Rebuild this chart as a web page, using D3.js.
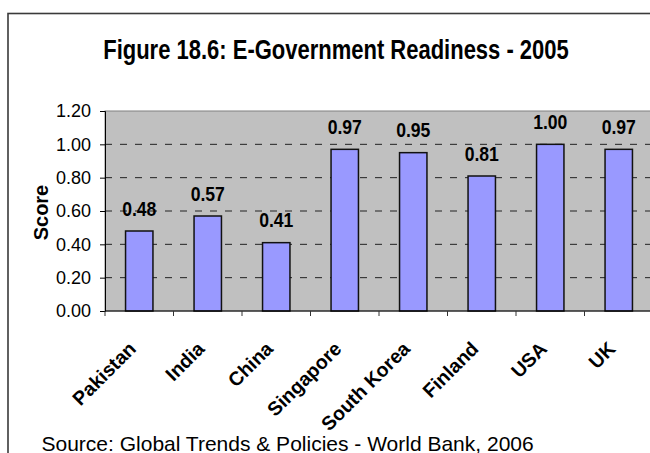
<!DOCTYPE html>
<html>
<head>
<meta charset="utf-8">
<script src="https://cdn.jsdelivr.net/npm/d3@7"></script>
<style>
 body { margin: 0; background: #fff; }
 svg { display: block; }
</style>
</head>
<body>
<script>
// E-Government Readiness 2005 - bar chart

var countries = ["Pakistan", "India", "China", "Singapore", "South Korea", "Finland", "USA", "UK"];
var scores = [0.48, 0.57, 0.41, 0.97, 0.95, 0.81, 1.00, 0.97];
var yTicks = [0, 0.2, 0.4, 0.6, 0.8, 1.0, 1.2];

var width = 650;
var height = 453;
var fontName = "'Liberation Sans', Arial, sans-serif";

var svg = d3.select("body").append("svg")
 .attr("width", width)
 .attr("height", height);

// outer chart frame (runs past the right and bottom edges of the picture)
svg.append("rect")
 .attr("x", 8)
 .attr("y", 13.5)
 .attr("width", 720)
 .attr("height", 520)
 .attr("fill", "#fff")
 .attr("stroke", "#3a3a3a")
 .attr("stroke-width", 1.6);

var x = d3.scaleBand()
 .domain(countries)
 .range([105, 653])
 .paddingInner(0.6)
 .paddingOuter(0.3);

var y = d3.scaleLinear()
 .domain([0, 1.2])
 .range([311, 111]);

var step = x.step();
var left = x.range()[0], right = x.range()[1];

// plot area
svg.append("rect")
 .attr("x", left)
 .attr("y", y(1.2))
 .attr("width", right - left)
 .attr("height", y(0) - y(1.2))
 .attr("fill", "#c0c0c0")
 .attr("stroke", "#808080")
 .attr("stroke-width", 1);

// dashed gridlines
svg.selectAll(".grid")
 .data(yTicks.filter(function(d) { return d > 0 && d < 1.2; }))
 .enter().append("line")
 .attr("x1", left)
 .attr("x2", right)
 .attr("y1", function(d) { return y(d); })
 .attr("y2", function(d) { return y(d); })
 .attr("stroke", "#222")
 .attr("stroke-width", 1)
 .attr("stroke-dasharray", "7,8");

// bars
svg.selectAll(".bar")
 .data(scores)
 .enter().append("rect")
 .attr("x", function(d, i) { return x(countries[i]); })
 .attr("y", function(d) { return y(d); })
 .attr("width", x.bandwidth())
 .attr("height", function(d) { return y(0) - y(d); })
 .attr("fill", "#9999ff")
 .attr("stroke", "#111")
 .attr("stroke-width", 1.5);

// value labels
svg.selectAll(".val")
 .data(scores)
 .enter().append("text")
 .attr("transform", function(d, i) {
   return "translate(" + (x(countries[i]) + x.bandwidth() / 2) + "," + (y(d) - 15.5) + ") scale(0.88,1)";
 })
 .attr("text-anchor", "middle")
 .attr("font-family", fontName)
 .attr("font-weight", "bold")
 .attr("font-size", 20)
 .attr("fill", "#000")
 .text(function(d) { return d.toFixed(2); });

// y axis
var yAxis = d3.axisLeft(y)
 .tickValues(yTicks)
 .tickSize(5)
 .tickPadding(9)
 .tickFormat(d3.format(".2f"));

var gy = svg.append("g")
 .attr("transform", "translate(" + left + ",0)")
 .call(yAxis);
gy.select(".domain").attr("stroke", "#000");
gy.selectAll(".tick line").attr("stroke", "#000");
gy.selectAll(".tick text")
 .attr("font-family", fontName)
 .attr("font-size", 18)
 .attr("fill", "#000");

// x axis line and ticks between categories
svg.append("line")
 .attr("x1", left)
 .attr("x2", right)
 .attr("y1", y(0))
 .attr("y2", y(0))
 .attr("stroke", "#000");

svg.selectAll(".xtick")
 .data(d3.range(countries.length + 1))
 .enter().append("line")
 .attr("x1", function(i) { return left + i * step; })
 .attr("x2", function(i) { return left + i * step; })
 .attr("y1", y(0))
 .attr("y2", y(0) + 5)
 .attr("stroke", "#333");

// category labels, slanted
svg.selectAll(".cat")
 .data(countries)
 .enter().append("text")
 .attr("transform", function(d) {
   return "translate(" + (x(d) + x.bandwidth() / 2 - 2) + ",350) rotate(-45)";
 })
 .attr("text-anchor", "end")
 .attr("font-family", fontName)
 .attr("font-weight", "bold")
 .attr("font-size", 19.5)
 .attr("fill", "#000")
 .text(function(d) { return d; });

// axis title
svg.append("text")
 .attr("transform", "translate(48,212.5) rotate(-90) scale(0.95,1)")
 .attr("text-anchor", "middle")
 .attr("font-family", fontName)
 .attr("font-weight", "bold")
 .attr("font-size", 21)
 .attr("fill", "#000")
 .text("Score");

// chart title
svg.append("text")
 .attr("transform", "translate(336,59) scale(0.815,1)")
 .attr("text-anchor", "middle")
 .attr("font-family", fontName)
 .attr("font-weight", "bold")
 .attr("font-size", 27)
 .attr("fill", "#000")
 .text("Figure 18.6:  E-Government Readiness - 2005");

// source note
svg.append("text")
 .attr("x", 41.5)
 .attr("y", 451)
 .attr("font-family", fontName)
 .attr("font-size", 21)
 .attr("fill", "#000")
 .text("Source: Global Trends & Policies - World Bank, 2006");
</script>
</body>
</html>
